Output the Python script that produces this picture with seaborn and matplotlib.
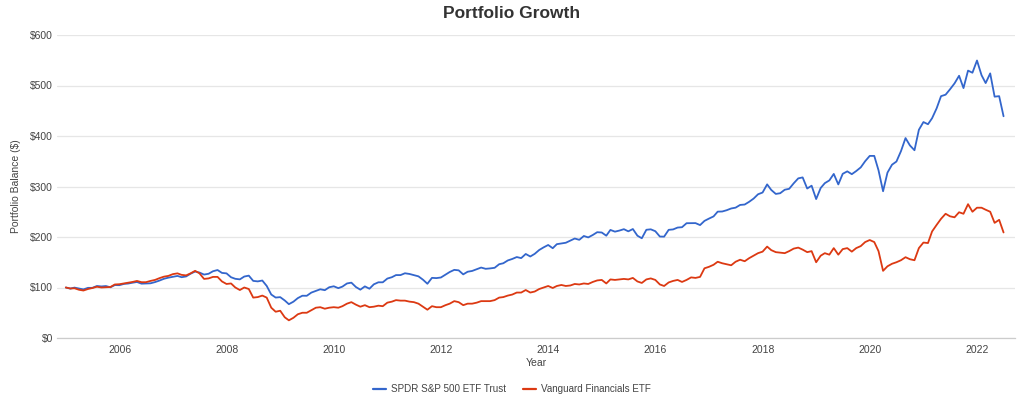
import matplotlib
matplotlib.use("Agg")
import matplotlib.pyplot as plt
import matplotlib.ticker as mticker
from matplotlib.lines import Line2D
import numpy as np
import pandas as pd
import seaborn as sns

# ---- data (month-end balances, $100 start on 2004-12-31 ... 2022-06-30) ----
start_month = "2004-12-31"
n_months = 211

spdr_sp500 = [
    100.0, 97.8, 99.8, 98.0, 96.2, 99.3, 99.3, 103.0, 102.1, 102.9, 100.4, 104.8, 104.6,
    107.1, 107.8, 109.5, 110.9, 107.6, 107.9, 108.3, 110.7, 113.7, 117.3, 119.5, 121.1,
    122.9, 120.4, 121.9, 127.3, 131.6, 129.6, 125.6, 127.2, 132.2, 134.6, 128.9, 128.0,
    120.3, 117.2, 116.1, 121.7, 123.5, 113.1, 112.1, 113.8, 103.1, 86.1, 80.1, 80.9,
    74.3, 67.0, 71.9, 79.0, 83.7, 83.6, 89.9, 93.2, 96.5, 94.7, 100.5, 102.4,
    98.7, 101.8, 108.0, 109.6, 100.9, 95.7, 102.2, 97.6, 106.3, 110.3, 110.3, 117.7,
    120.4, 124.6, 124.6, 128.2, 126.8, 124.6, 122.1, 115.4, 107.4, 119.1, 118.6, 119.8,
    125.3, 130.7, 134.9, 134.0, 126.0, 131.2, 132.8, 136.1, 139.5, 137.0, 137.8, 139.0,
    146.1, 148.0, 153.6, 156.5, 160.3, 158.2, 166.4, 161.4, 166.6, 174.3, 179.5, 184.2,
    177.8, 185.8, 187.3, 188.6, 192.9, 197.0, 194.4, 202.0, 199.2, 204.0, 209.5, 208.9,
    202.6, 214.0, 210.6, 212.7, 215.5, 211.2, 215.8, 202.6, 197.5, 214.3, 215.2, 211.5,
    200.9, 200.7, 214.2, 215.0, 218.7, 219.4, 227.3, 227.5, 227.5, 223.6, 231.9, 236.5,
    240.8, 250.2, 250.5, 253.0, 256.5, 258.1, 263.5, 264.3, 269.6, 276.1, 284.6, 288.1,
    304.2, 293.2, 285.3, 286.7, 293.6, 295.4, 306.3, 316.1, 318.0, 296.0, 301.6, 275.1,
    297.1, 306.6, 312.1, 324.9, 304.1, 325.1, 330.0, 324.4, 330.6, 337.9, 350.1, 360.6,
    360.6, 332.1, 290.6, 327.5, 343.2, 349.4, 370.0, 395.9, 381.3, 371.8, 412.3, 427.6,
    423.3, 435.2, 454.8, 478.9, 481.8, 492.4, 504.2, 519.3, 494.9, 529.5, 525.3, 549.5,
    520.4, 504.8, 524.0, 477.9, 478.9, 439.1,
]

vanguard_fin = [
    100, 98, 98.5, 95.5, 94, 97, 99, 101.5, 100, 100.5, 101, 106, 106.5,
    108, 109.5, 111, 113, 110.5, 110.5, 113, 115, 118.5, 121.5, 123, 126.5,
    128, 125, 124, 128, 133, 128, 117, 118, 121, 121, 112, 107,
    108, 100, 95, 100, 97, 80, 81, 84, 80, 60, 52, 54,
    41, 35, 40, 47, 50, 50, 55, 60, 61, 58, 60, 61,
    60, 63, 68, 71, 66, 62, 65, 61, 62, 64, 63, 70,
    72, 75, 74, 74, 72, 71, 68, 62, 56, 63, 61, 61,
    65, 68, 73, 71, 65, 68, 68, 70, 73, 73, 73, 75,
    80, 81, 84, 86, 90, 90, 95, 90, 92, 97, 100, 103,
    99, 103, 105, 103, 104, 107, 106, 108, 107, 111, 114, 115,
    108, 116, 115, 116, 117, 116, 119, 112, 109, 116, 118, 115,
    106, 103, 110, 113, 115, 111, 115, 120, 119, 121, 138, 141,
    145, 151, 148, 146, 144, 151, 155, 152, 158, 163, 168, 171,
    181, 174, 170, 169, 168, 172, 177, 179, 175, 170, 172, 150,
    163, 168, 165, 178, 165, 176, 178, 171, 178, 182, 190, 194,
    190, 172, 133, 142, 147, 150, 154, 160, 156, 154, 178, 189,
    188, 211, 224, 236, 246, 241, 239, 249, 246, 265, 250, 258,
    258, 254, 250, 228, 234, 209,
]

series_names = ["SPDR S&P 500 ETF Trust", "Vanguard Financials ETF"]
series_colors = ["#3366cc", "#dc3912"]
y_ticks = [0, 100, 200, 300, 400, 500, 600]
x_tick_years = [2006, 2008, 2010, 2012, 2014, 2016, 2018, 2020, 2022]

dates = pd.date_range(start_month, periods=n_months, freq="ME")
df = pd.concat([
    pd.DataFrame({"Date": dates, "Value": spdr_sp500, "Series": series_names[0]}),
    pd.DataFrame({"Date": dates, "Value": vanguard_fin, "Series": series_names[1]}),
], ignore_index=True)

sns.set_style("white")
plt.rcParams["font.family"] = ["Liberation Sans", "DejaVu Sans"]

fig = plt.figure(figsize=(10.24, 4.08), dpi=100)
ax = fig.add_axes([57 / 1024, 1 - 338 / 408, (1015 - 57) / 1024, (338 - 35) / 408])

sns.lineplot(data=df, x="Date", y="Value", hue="Series", palette=series_colors,
             hue_order=series_names, linewidth=1.3, ax=ax, legend=False)

ax.set_ylim(0, 600)
ax.set_xlim(pd.Timestamp("2004-11-01"), pd.Timestamp("2022-09-16"))
ax.set_yticks(y_ticks)
ax.yaxis.set_major_formatter(mticker.FuncFormatter(lambda v, p: f"${int(v)}"))
ax.set_xticks([pd.Timestamp(f"{y}-01-01") for y in x_tick_years])
ax.set_xticklabels([str(y) for y in x_tick_years])

ax.grid(axis="y", color="#e6e6e6", linewidth=0.9)
ax.grid(axis="x", visible=False)
for s in ["top", "right", "left"]:
    ax.spines[s].set_visible(False)
ax.spines["bottom"].set_color("#cccccc")
ax.spines["bottom"].set_linewidth(0.9)

ax.tick_params(axis="y", length=0, labelsize=7.5, labelcolor="#444444", pad=3)
ax.tick_params(axis="x", length=3, color="#cccccc", labelsize=7.5, labelcolor="#444444", pad=2)

ax.set_xlabel("Year", fontsize=7.5, color="#444444", labelpad=2)
ax.set_ylabel("Portfolio Balance ($)", fontsize=7.5, color="#444444", labelpad=6)

fig.text(0.5, 1 - 13 / 408, "Portfolio Growth", ha="center", va="center",
         fontsize=12.5, fontweight="bold", color="#333333")

handles = [Line2D([0], [0], color=c, linewidth=1.6) for c in series_colors]
fig.legend(handles, series_names, loc="center", bbox_to_anchor=(0.5, 1 - 389 / 408),
           ncol=2, frameon=False, fontsize=7.1, handlelength=1.32, handletextpad=0.5,
           columnspacing=1.7, labelcolor="#444444")

fig.savefig("out.png", dpi=100)
